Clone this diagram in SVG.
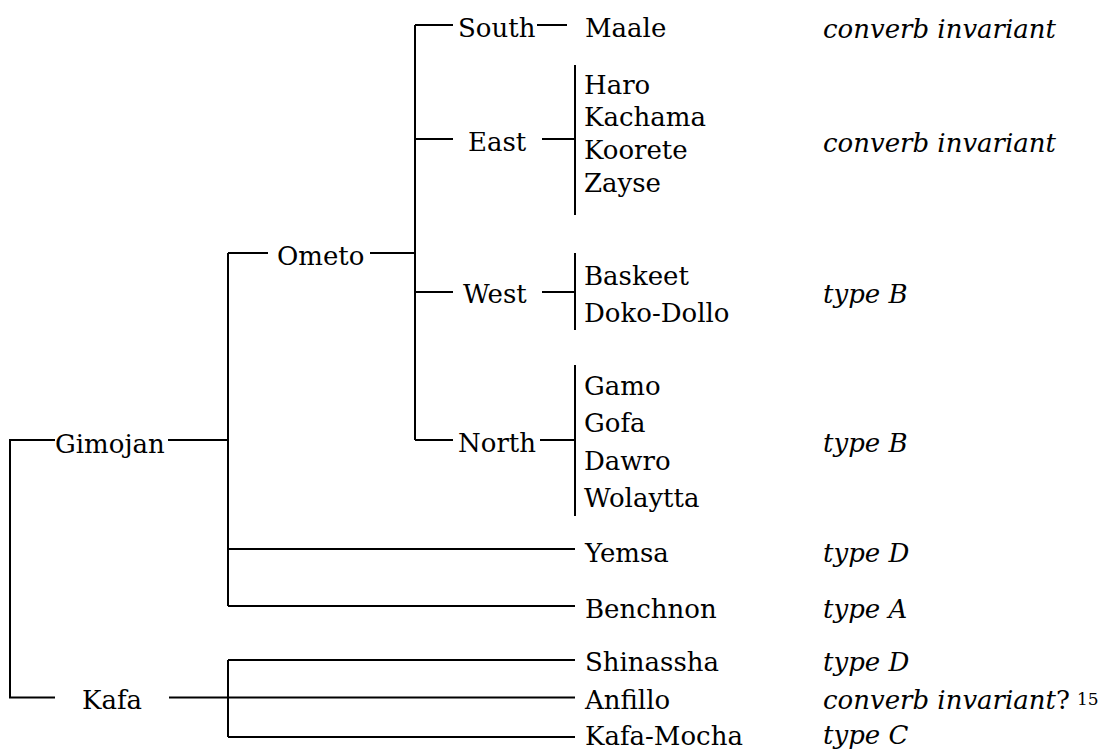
<svg xmlns="http://www.w3.org/2000/svg" width="1104" height="751" viewBox="0 0 1104 751">
<style>
.t{font-family:"DejaVu Serif","Liberation Serif",serif;font-size:26px;fill:#000}
.i{font-family:"DejaVu Serif","Liberation Serif",serif;font-size:26px;font-style:italic;fill:#000}
.s{font-family:"DejaVu Serif","Liberation Serif",serif;font-size:17px;fill:#000}
.c{fill:none;stroke:#000;stroke-width:2}
</style>
<rect width="1104" height="751" fill="#fff"/>
<g id="connectors" class="c">
<path d="M55,440 H10 V697.5 H55"/>
<path d="M168,440 H228"/>
<path d="M228,253 V606"/>
<path d="M228,253 H268"/>
<path d="M228,549 H575"/>
<path d="M228,606 H575"/>
<path d="M169,697.5 H575"/>
<path d="M228,660 V737"/>
<path d="M228,660 H575"/>
<path d="M228,737 H575"/>
<path d="M370,253 H415"/>
<path d="M415,25 V440"/>
<path d="M415,25 H453"/>
<path d="M537,25 H567"/>
<path d="M415,139 H453"/>
<path d="M542,139 H575"/>
<path d="M575,65 V215"/>
<path d="M415,292 H453"/>
<path d="M542,292 H575"/>
<path d="M575,253 V330"/>
<path d="M415,440 H453"/>
<path d="M540,440 H575"/>
<path d="M575,365 V516"/>
</g>
<g id="gimojan"><text class="t" x="55" y="453">Gimojan</text></g>
<g id="kafa"><text class="t" x="82" y="709">Kafa</text></g>
<g id="ometo"><text class="t" x="277" y="265">Ometo</text></g>
<g id="south"><text class="t" x="458" y="37">South</text></g>
<g id="east"><text class="t" x="468" y="151">East</text></g>
<g id="west"><text class="t" x="463" y="303">West</text></g>
<g id="north"><text class="t" x="458" y="452">North</text></g>
<g id="maale"><text class="t" x="585" y="37">Maale</text></g>
<g id="east-langs">
<text class="t" x="584" y="94">Haro</text>
<text class="t" x="584" y="126">Kachama</text>
<text class="t" x="584" y="159">Koorete</text>
<text class="t" x="584" y="192">Zayse</text>
</g>
<g id="west-langs">
<text class="t" x="584" y="285">Baskeet</text>
<text class="t" x="584" y="322">Doko-Dollo</text>
</g>
<g id="north-langs">
<text class="t" x="584" y="395">Gamo</text>
<text class="t" x="584" y="432">Gofa</text>
<text class="t" x="584" y="470">Dawro</text>
<text class="t" x="584" y="507">Wolaytta</text>
</g>
<g id="yemsa"><text class="t" x="585" y="562">Yemsa</text></g>
<g id="benchnon"><text class="t" x="585" y="618">Benchnon</text></g>
<g id="shinassha"><text class="t" x="585" y="671">Shinassha</text></g>
<g id="anfillo"><text class="t" x="585" y="709">Anfillo</text></g>
<g id="kafa-mocha"><text class="t" x="585" y="745">Kafa-Mocha</text></g>
<g id="annotations">
<text class="i" x="823" y="38">converb invariant</text>
<text class="i" x="823" y="152">converb invariant</text>
<text class="i" x="823" y="303">type B</text>
<text class="i" x="823" y="452">type B</text>
<text class="i" x="823" y="562">type D</text>
<text class="i" x="823" y="618">type A</text>
<text class="i" x="823" y="671">type D</text>
<text class="i" x="823" y="709">converb invariant<tspan font-style="normal">?</tspan></text>
<text class="s" x="1077" y="705">15</text>
<text class="i" x="823" y="744">type C</text>
</g>
</svg>
